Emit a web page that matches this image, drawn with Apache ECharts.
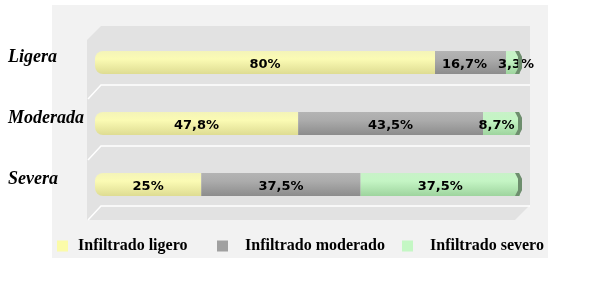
<!DOCTYPE html>
<html><head><meta charset="utf-8">
<script src="https://cdn.jsdelivr.net/npm/echarts@6/dist/echarts.min.js"></script>
<style>html,body{margin:0;padding:0;background:#fff}#c{width:598px;height:285px}</style>
</head><body><div id="c"></div>
<script>
const categories = ['Ligera', 'Moderada', 'Severa'];
const seriesNames = ['Infiltrado ligero', 'Infiltrado moderado', 'Infiltrado severo'];
const ligero = [80, 47.8, 25];
const moderado = [16.7, 43.5, 37.5];
const severo = [3.3, 8.7, 37.5];
const labelsLigero = ['80%', '47,8%', '25%'];
const labelsModerado = ['16,7%', '43,5%', '37,5%'];
const labelsSevero = ['3,3%', '8,7%', '37,5%'];

function grad(c1, c2, c3) {
  return new echarts.graphic.LinearGradient(0, 0, 0, 1, [
    {offset: 0, color: c1}, {offset: 0.35, color: c2}, {offset: 1, color: c3}
  ]);
}
const chart = echarts.init(document.getElementById('c'));
const lblFont = {show: true, position: 'inside', color: '#000', fontFamily: 'DejaVu Sans', fontWeight: 'bold', fontSize: 13};
// per-label horizontal nudges (style only)
const labelNudge = [[0, 0, 0], [-6, 0, 0], [3, -5, 0]];
function mk(si, vals, labels, extra) {
  return Object.assign({
    name: seriesNames[si], type: 'bar', stack: 't', barWidth: 23,
    data: vals.map((v, i) => ({value: v, label: {offset: [labelNudge[si][i], 2]}})),
    label: Object.assign({}, lblFont, {formatter: p => labels[p.dataIndex]})
  }, extra || {});
}
const legendColors = ['#fbfba8', '#a0a0a0', '#c4f7c4'];
const legendLefts = [57, 217, 402];
const legendTextPad = [5, 12, 12];
chart.setOption({
  animation: false,
  graphic: [
    {type: 'rect', z: -10, shape: {x: 52, y: 5, width: 496, height: 253}, style: {fill: '#f2f2f2'}},
    {type: 'polygon', z: -9, shape: {points: [[87, 40], [101, 26], [530, 26], [530, 205], [515, 220], [87, 220]]}, style: {fill: '#e2e2e2'}},
    {type: 'polyline', z: -8, shape: {points: [[88, 99], [101, 85], [530, 85]]}, style: {stroke: '#ffffff', lineWidth: 1.5, fill: null}},
    {type: 'polyline', z: -8, shape: {points: [[88, 160], [101, 146], [530, 146]]}, style: {stroke: '#ffffff', lineWidth: 1.5, fill: null}},
    {type: 'polyline', z: -8, shape: {points: [[88, 220], [101, 206], [530, 206]]}, style: {stroke: '#ffffff', lineWidth: 1.5, fill: null}}
  ],
  grid: {left: 95, right: 78, top: 32, bottom: 70},
  xAxis: {type: 'value', min: 0, max: 100, show: false},
  yAxis: {
    type: 'category', data: categories, inverse: true,
    axisLine: {show: false}, axisTick: {show: false}, splitLine: {show: false},
    axisLabel: {align: 'left', verticalAlign: 'bottom', lineHeight: 10, margin: 87, fontFamily: 'Liberation Serif', fontWeight: 'bold', fontStyle: 'italic', fontSize: 18, color: '#000'}
  },
  legend: seriesNames.map((n, i) => ({
    left: legendLefts[i], top: 238, padding: 0, itemWidth: 11, itemHeight: 11, icon: 'rect',
    textStyle: {fontFamily: 'Liberation Serif', fontWeight: 'bold', fontSize: 16, color: '#000', padding: [0, 0, 0, legendTextPad[i]]},
    data: [{name: n, itemStyle: {color: legendColors[i]}}]
  })),
  series: [
    mk(0, ligero, labelsLigero, {itemStyle: {color: grad('#f4f4b8', '#fbfbb4', '#dedc92'), borderRadius: [8, 0, 0, 8]}}),
    mk(1, moderado, labelsModerado, {itemStyle: {color: grad('#b4b4b4', '#acacac', '#8c8c8c')}}),
    mk(2, severo, labelsSevero, {itemStyle: {color: grad('#c8f2c8', '#c4f5c4', '#9ed49e')}}),
    {
      type: 'custom', name: 'cap', silent: true, z: 5,
      data: categories.map((c, i) => [100, i]),
      encode: {x: 0, y: 1},
      renderItem: function (params, api) {
        const p = api.coord([api.value(0), api.value(1)]);
        const h = 23;
        return {type: 'polygon', shape: {points: [
          [p[0] - 5, p[1] - h / 2], [p[0] - 1, p[1] - h / 2], [p[0] + 2, p[1] - h / 4], [p[0] + 2, p[1] + h / 4],
          [p[0] - 1, p[1] + h / 2], [p[0] - 5, p[1] + h / 2], [p[0] - 2, p[1] + h / 4], [p[0] - 2, p[1] - h / 4]
        ]}, style: {fill: '#6e8e6e'}};
      }
    }
  ]
});
</script></body></html>
